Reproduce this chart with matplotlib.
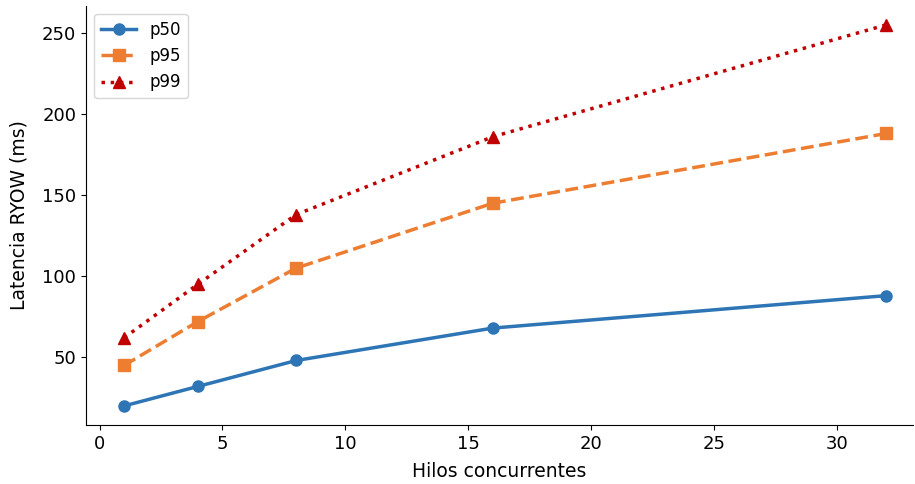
import matplotlib.pyplot as plt

# datos
hilos = [1, 4, 8, 16, 32]
p50 = [20, 32, 48, 68, 88]
p95 = [45, 72, 105, 145, 188]
p99 = [62, 95, 138, 186, 255]

fig, ax = plt.subplots(figsize=(9.15, 4.84), dpi=100)

ax.plot(hilos, p50, color='#2E75B6', linestyle='-', marker='o', linewidth=2.5, markersize=8, label='p50')
ax.plot(hilos, p95, color='#ED7D31', linestyle='--', marker='s', linewidth=2.5, markersize=8, label='p95')
ax.plot(hilos, p99, color='#C00000', linestyle=':', marker='^', linewidth=2.5, markersize=8, label='p99')

ax.set_xlim(-0.55, 33.1)
ax.set_xlabel('Hilos concurrentes', fontsize=13.5, labelpad=7)
ax.set_ylabel('Latencia RYOW (ms)', fontsize=13.5, labelpad=10)
ax.tick_params(labelsize=13)
ax.spines['top'].set_visible(False)
ax.spines['right'].set_visible(False)
ax.legend(loc='upper left', fontsize=12, handlelength=2.1)

plt.subplots_adjust(left=0.094, right=0.998, top=0.988, bottom=0.122)
plt.savefig('out.png', dpi=100)
